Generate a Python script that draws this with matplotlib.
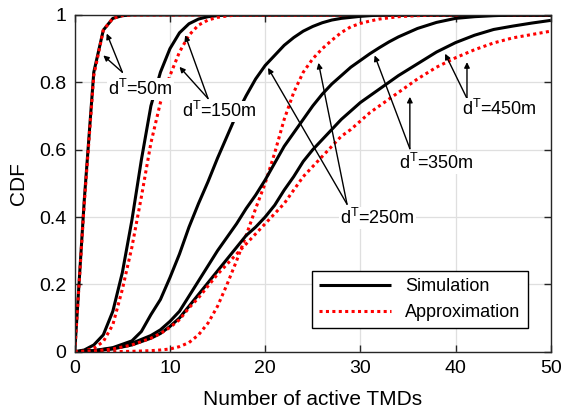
import matplotlib
matplotlib.use("Agg")
import matplotlib.pyplot as plt

plt.rcParams['font.family'] = ['Liberation Sans', 'DejaVu Sans']
plt.rcParams['mathtext.fontset'] = 'custom'
plt.rcParams['mathtext.rm'] = 'Liberation Sans'

# d^T = 50m
x50 = [0, 1, 2, 3, 4, 5, 6, 50]
sim50 = [0, 0.45, 0.83, 0.955, 0.99, 0.998, 1, 1]
app50 = [0, 0.44, 0.82, 0.955, 0.99, 0.998, 1, 1]

# d^T = 150m
x150 = [0, 1, 2, 3, 4, 5, 6, 7, 8, 9, 10, 11, 12, 13, 14, 15, 16, 17, 50]
sim150 = [0, 0.005, 0.02, 0.05, 0.12, 0.235, 0.39, 0.57, 0.73, 0.83, 0.9,
          0.947, 0.974, 0.988, 0.995, 0.998, 1, 1, 1]
app150 = [0, 0.002, 0.01, 0.03, 0.08, 0.185, 0.31, 0.46, 0.62, 0.74, 0.82,
          0.89, 0.94, 0.97, 0.985, 0.993, 0.997, 1, 1]

# d^T = 250m
x250 = [0, 2, 4, 6, 7, 8, 9, 10, 11, 12, 13, 14, 15, 16, 17, 18, 19, 20,
        21, 22, 23, 24, 25, 26, 27, 28, 29, 30, 31, 32, 34, 36, 38, 50]
sim250 = [0, 0.003, 0.012, 0.032, 0.06, 0.11, 0.155, 0.22, 0.29, 0.37, 0.44,
          0.505, 0.575, 0.64, 0.705, 0.76, 0.81, 0.85, 0.88, 0.91, 0.933,
          0.952, 0.966, 0.977, 0.985, 0.99, 0.993, 0.996, 0.998, 1, 1, 1, 1, 1]
app250 = [0, 0, 0, 0.001, 0.002, 0.003, 0.005, 0.008, 0.015, 0.027, 0.05,
          0.085, 0.135, 0.2, 0.27, 0.345, 0.425, 0.5, 0.59, 0.69, 0.77,
          0.83, 0.87, 0.9, 0.925, 0.948, 0.965, 0.975, 0.982, 0.988, 0.995,
          0.998, 1, 1]

# d^T = 350m / 450m
xbig = [0, 2, 4, 6, 8, 9, 10, 11, 12, 13, 14, 15, 16, 17, 18, 19, 20, 21,
        22, 23, 24, 25, 26, 27, 28, 29, 30, 31, 32, 33, 34, 36, 38, 40, 42,
        44, 46, 48, 50]
sim350 = [0, 0.003, 0.01, 0.025, 0.048, 0.065, 0.09, 0.12, 0.165, 0.21,
          0.255, 0.3, 0.34, 0.38, 0.425, 0.465, 0.51, 0.56, 0.61, 0.65, 0.69,
          0.73, 0.765, 0.795, 0.82, 0.845, 0.865, 0.885, 0.903, 0.92, 0.935,
          0.96, 0.978, 0.99, 0.995, 0.998, 1, 1, 1]
sim450 = [0, 0.002, 0.008, 0.02, 0.04, 0.054, 0.075, 0.1, 0.135, 0.17, 0.205,
          0.24, 0.275, 0.31, 0.345, 0.37, 0.4, 0.435, 0.48, 0.52, 0.565, 0.6,
          0.63, 0.66, 0.69, 0.715, 0.74, 0.76, 0.78, 0.8, 0.82, 0.855, 0.89,
          0.918, 0.94, 0.957, 0.967, 0.976, 0.984]
app450 = [0, 0.002, 0.008, 0.02, 0.04, 0.054, 0.072, 0.095, 0.13, 0.16, 0.195,
          0.23, 0.26, 0.29, 0.32, 0.35, 0.38, 0.41, 0.44, 0.48, 0.52, 0.55,
          0.58, 0.61, 0.64, 0.66, 0.685, 0.71, 0.73, 0.75, 0.77, 0.81, 0.845,
          0.873, 0.897, 0.917, 0.932, 0.942, 0.952]

fig = plt.figure(figsize=(5.62, 4.12), dpi=100)
ax = fig.add_axes([0.133, 0.1464, 0.847, 0.8172])

sim_style = dict(color='black', lw=2.2, solid_capstyle='butt', solid_joinstyle='round')
app_style = dict(color='red', lw=2.2, linestyle=(0, (1, 1.1)))

ax.plot(x50, sim50, **sim_style, label='Simulation')
ax.plot(x50, app50, **app_style, label='Approximation')
ax.plot(x150, sim150, **sim_style)
ax.plot(x150, app150, **app_style)
ax.plot(x250, sim250, **sim_style)
ax.plot(x250, app250, **app_style)
ax.plot(xbig, sim350, **sim_style)
ax.plot(xbig, sim450, **sim_style)
ax.plot(xbig, app450, **app_style)

# labels with arrows: (text pos, arrow tail, arrow tips)
labels = [
    ('d$^{\\mathrm{T}}$=50m', (6.9, 0.78), (5.0, 0.83), [(3.36, 0.945), (3.0, 0.88)]),
    ('d$^{\\mathrm{T}}$=150m', (15.2, 0.714), (14.0, 0.752), [(11.6, 0.94), (11.0, 0.846)]),
    ('d$^{\\mathrm{T}}$=250m', (31.8, 0.397), (28.6, 0.438), [(20.3, 0.843), (25.6, 0.858)]),
    ('d$^{\\mathrm{T}}$=350m', (38.0, 0.561), (35.2, 0.603), [(31.5, 0.88), (35.2, 0.757)]),
    ('d$^{\\mathrm{T}}$=450m', (44.6, 0.722), (41.2, 0.752), [(38.9, 0.885), (41.2, 0.86)]),
]
for txt, pos, tail, tips in labels:
    for tip in tips:
        ax.annotate('', xy=tip, xytext=tail,
                    arrowprops=dict(arrowstyle='-|>', color='black', lw=1.0,
                                    mutation_scale=8, shrinkA=0, shrinkB=0),
                    zorder=4)
    ax.text(pos[0], pos[1], txt, fontsize=13, ha='center', va='center',
            zorder=5, bbox=dict(facecolor='white', edgecolor='none', pad=0.5))

ax.set_xlim(0, 50)
ax.set_ylim(0, 1)
ax.set_xticks([0, 10, 20, 30, 40, 50])
ax.set_yticks([0, 0.2, 0.4, 0.6, 0.8, 1])
ax.set_yticklabels(['0', '0.2', '0.4', '0.6', '0.8', '1'])
ax.tick_params(direction='in', length=5, width=1, labelsize=14, pad=6,
               top=True, right=True, color='#262626')
ax.grid(True, color='#dfdfdf', lw=0.9)
ax.set_axisbelow(True)
for s in ax.spines.values():
    s.set_linewidth(1.0)
    s.set_color('#262626')

ax.set_xlabel('Number of active TMDs', fontsize=15, labelpad=9)
ax.set_ylabel('CDF', fontsize=15, labelpad=8)

leg = ax.legend(loc='lower right', bbox_to_anchor=(0.952, 0.0695),
                fontsize=13, handlelength=4.0, fancybox=False,
                edgecolor='black', framealpha=1, borderaxespad=0)
leg.get_frame().set_linewidth(1.0)

fig.savefig('out.png', dpi=100)
